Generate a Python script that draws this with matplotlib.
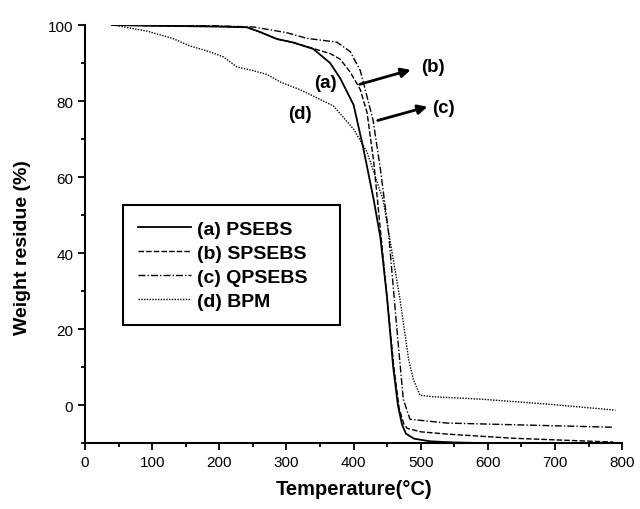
import matplotlib
matplotlib.use("Agg")
import matplotlib.pyplot as plt
from matplotlib.ticker import MultipleLocator

plt.rcParams['font.family'] = ['Liberation Sans', 'DejaVu Sans']

# TGA curves: temperature (C) vs weight residue (%)
t_a = [40, 100, 150, 200, 241, 260, 286, 310, 340, 365, 380, 400, 414, 430, 440, 450,
       459, 466, 472, 478, 490, 514, 550, 600, 700, 785]
w_a = [100, 99.8, 99.7, 99.6, 99.4, 98.2, 96.3, 95.4, 93.7, 90, 86, 79, 68, 54, 44, 28,
       10, 0, -5, -7.5, -8.8, -9.5, -9.8, -10, -10, -10]

t_b = [40, 100, 150, 200, 241, 260, 286, 310, 340, 365, 380, 395, 410, 420, 430, 440,
       450, 460, 468, 475, 480, 500, 539, 638, 787]
w_b = [100, 99.8, 99.7, 99.6, 99.4, 98.2, 96.3, 95.4, 93.8, 92.5, 91, 87.6, 83, 77, 64, 46,
       28, 10, -1, -5, -6.1, -7, -7.6, -8.7, -9.7]

t_c = [40, 150, 250, 300, 330, 375, 395, 410, 429, 440, 452, 465, 474, 484, 539, 787]
w_c = [100, 100, 99.5, 98, 96.5, 95.5, 93, 88, 75, 62, 45.5, 19, 1.6, -3.7, -4.7, -5.8]

t_d = [42, 92, 130, 156, 185, 206, 226, 250, 271, 291, 320, 340, 370, 400, 420, 444,
       469, 482, 489, 499, 520, 589, 688, 790]
w_d = [100, 98.4, 96.5, 94.5, 93, 91.6, 89, 88, 87, 85, 83, 81.3, 78.7, 72.6, 66.6, 54,
       28, 12, 6.8, 2.6, 2.2, 1.6, 0.3, -1.3]

labels = ['(a) PSEBS', '(b) SPSEBS', '(c) QPSEBS', '(d) BPM']

fig = plt.figure(figsize=(6.4, 5.1), dpi=100)
ax = fig.add_axes([0.133, 0.129, 0.839, 0.82])

ax.plot(t_a, w_a, color='black', lw=1.3, ls='-', label=labels[0])
ax.plot(t_b, w_b, color='black', lw=1.0, ls=(0, (4, 1.5)), label=labels[1])
ax.plot(t_c, w_c, color='black', lw=1.0, ls=(0, (5, 1.5, 1, 1.5)), label=labels[2])
ax.plot(t_d, w_d, color='black', lw=1.0, ls=(0, (1, 1)), label=labels[3])

ax.set_xlim(0, 800)
ax.set_ylim(-10, 100)
ax.xaxis.set_major_locator(MultipleLocator(100))
ax.xaxis.set_minor_locator(MultipleLocator(50))
ax.yaxis.set_major_locator(MultipleLocator(20))
ax.yaxis.set_minor_locator(MultipleLocator(10))
ax.tick_params(which='both', direction='out', width=1.3, labelsize=11)
ax.tick_params(which='major', length=5)
ax.tick_params(which='minor', length=3)

for s in ['top', 'right']:
    ax.spines[s].set_visible(False)
for s in ['left', 'bottom']:
    ax.spines[s].set_linewidth(1.5)

ax.set_xlabel('Temperature(°C)', fontsize=14.5, fontweight='bold', labelpad=7)
ax.set_ylabel('Weight residue (%)', fontsize=14, fontweight='bold')
ax.yaxis.set_label_coords(-0.1, 0.47)

# curve labels and arrows
ax.text(358, 85, '(a)', fontsize=13.5, fontweight='bold', ha='center', va='center')
ax.text(320, 76.6, '(d)', fontsize=13.5, fontweight='bold', ha='center', va='center')
arrow = dict(arrowstyle='-|>', lw=2, color='black', mutation_scale=14)
ax.annotate('', xy=(489, 88.4), xytext=(405, 84.2), arrowprops=arrow)
ax.annotate('', xy=(514, 78.7), xytext=(432, 74.7), arrowprops=arrow)
ax.text(500, 89.2, '(b)', fontsize=13.5, fontweight='bold', ha='left', va='center')
ax.text(517, 78.4, '(c)', fontsize=13.5, fontweight='bold', ha='left', va='center')

leg = ax.legend(loc='lower left', bbox_to_anchor=(0.07, 0.282, 0.404, 0.3), mode='expand',
                fancybox=False, edgecolor='black', framealpha=1, handlelength=2.7,
                handletextpad=0.3, borderpad=0.8, borderaxespad=0, labelspacing=0.32,
                prop={'weight': 'bold', 'size': 14})
leg.get_frame().set_linewidth(1.5)

fig.savefig('out.png', dpi=100)
